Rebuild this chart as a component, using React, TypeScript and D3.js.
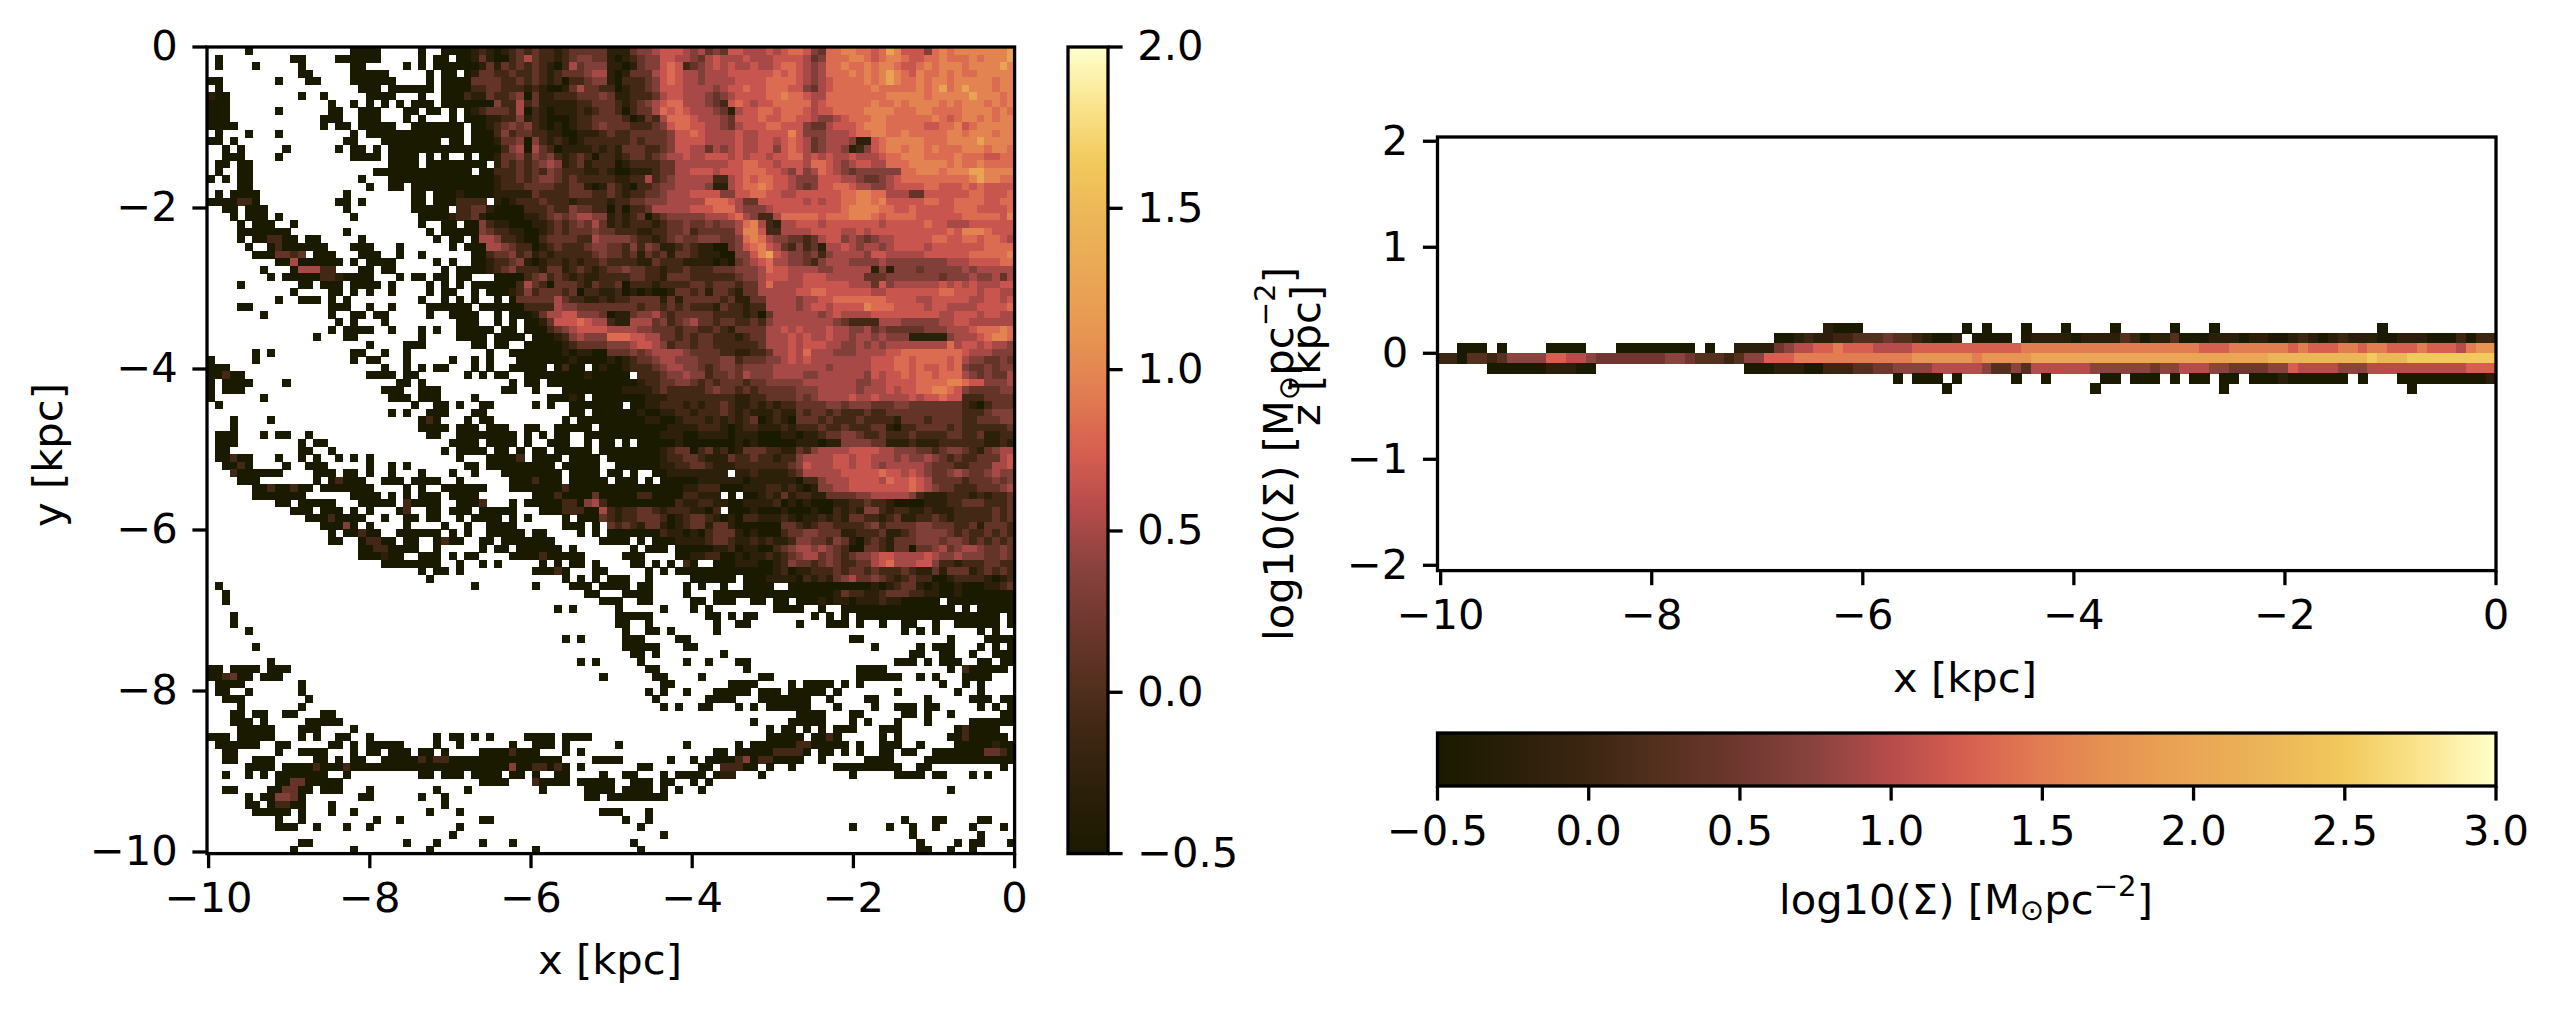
import React, { useEffect, useRef } from 'react';
import * as d3 from 'd3';

// face-on map: one string per row, top row first (y = 0). '.' is an empty bin,
// a digit is a level, faceLevels gives its log10(Sigma).
// Spaces only help counting.
const faceLevels = [-0.5, -0.3, -0.1, 0.13, 0.33, 0.51, 0.67, 0.83, 0.97, 1.25];

// columns 0-52
const faceWest = [
  ".....0.... .........0 000.....0. .000012101 2323221233 333",
  ".0........ .00....000 000.....0. 00.0013100 2353221234 433",
  ".0....0... ..0......0 0.....0.0. 0000001313 2323210253 444",
  ".......... ..00.....0 0000.....0 .00.013322 3223212333 455",
  "00.......0 ...00....0 00000....0 .000033332 2323212022 344",
  ".0........ .......... 000.000000 .000022332 2212100135 332",
  "100....... ..0..0.... .0000...0. .000211322 3403112223 334",
  "000....... ......0..0 .0.0.0.000 .000000042 2523111112 233",
  "000......0 ......00.. 000...00.0 0.0.012333 2502101112 123",
  "000....... .....000.. 000...0.0. ..0.000112 2412100012 233",
  "0000...... .....0.00. 00000..000 0000.00123 4342101012 234",
  ".0...0...0 .........0 .000000000 0000.00024 2332211001 112",
  "00.0...... ........00 ...0000000 0.00.00013 3404212101 222",
  "..0.0..... 0......0.0 0.0.000000 0000000002 4505320111 121",
  "..000....0 .........0 000.0000.0 .0..0.0013 3424342123 202",
  ".00.00.... .......... ....0000.0 0000000.13 2323454123 122",
  ".0..00.... .......... ..00000000 00000.0022 2323243222 112",
  "0.0.00.... .......... 0...000000 0000000012 2323443232 222",
  "....00.... .......... .0..00.000 0000000012 2233332233 101",
  ".0.0000... ........0. .......00. 0001000011 1113222233 322",
  "0000220... .......00. 0......00. 0002222.10 1222322212 222",
  "..00.000.. ........0. .......000 00.2233100 0022232243 322",
  "...0.000.0 .........0 ........00 0012231000 0011234345 544",
  "....0.000. .0........ ........0. .00.004211 0001123234 353",
  "....000000 0.......0. .........0 .000004322 1100123233 343",
  "....0.0022 00.00..... 0......... 0.00.05542 2100233332 254",
  ".....0..02 000000...0 00...0.... ..0.000554 3220123222 344",
  "......0003 323.000... 000..0..0. .....00233 4231212222 234",
  ".........0 05000000.0 .0000..... 0.0..00122 3410122121 223",
  ".......0.. .055522... 00.00..... .0.0000123 4222133123 212",
  "........0. 0000022100 00...0.00. 00.00...00 0023423212 112",
  "....0..... ..00.000.0 000.0....0 .0.0.00000 0253203332 132",
  ".......... .0....00.0 .0..0....0 .00..0.000 1242333230 221",
  ".........0 ..000.0.0. ........0. .0.0.0..0. 0333335322 112",
  "....00.... ......000. .0..0....0 00000.0000 0022225443 333",
  ".......0.. ......0..0 0.00.....0 ..0000..0. 0001355664 443",
  ".......... .......0.0 ...0...... ...000..0. 0.00136667 655",
  ".......... ......0.00 00..0...0. 0..00000.0 0.00023456 666",
  ".......... ....0...00 ........0. ...0000.00 00.0001245 444",
  ".......... .......... .0....000. .....00.00 ..00000123 333",
  "......0.0. .........0 0..0..0... .......0.. 0000000101 100",
  "0.....0... .........0 .00...0... ..0..0.0.. .000000010 000",
  "000....... .......... ...0..0.0. 00...0.0.. 00000.0200 .01",
  "00200..... .......... .0000.00.. ....0.0.00 ..00000000 100",
  "0.0000.... 0......... .....00.0. .......... 0.00.00000 000",
  "0.000..... .......... ...000..00 0........0 0..0...000 000",
  "0......0.. .......... ....000.00 0....0.... .....00010 .00",
  ".0........ .......... .......0.. 00.0..00.. ...0.0..00 000",
  ".......... .......... ....0.0..0 00...00... ........00 .00",
  "...0....0. .......... ........02 0...0.00.. .......0.0 000",
  "...0...... .......... ........00 00.000.000 ..00..0000 0.0",
  ".000...0.0 0..0...... .........0 0..0000000 0.0.0.00.. 000",
  ".000...... ..0.00.... .......... ..0000.000 0.0..000.. 0.0",
  ".00....... ..00..0... .......... .0.0000.00 .0.00.0000 0.0",
  ".00200...0 ..0.0..0.0 .0........ ...0...000 02.0000.00 00.",
  "..0020.... 0..000.... .0..0.0... ....00.000 000000.000 00.",
  "...2000000 ....000.00 .0..0...0. ..0..0...0 0000000.00 00.",
  "....000... ....0.0200 0..000.000 0..0...... 0002000.00 000",
  "......0020 0200.00000 00....0.0. .000000... 0000000200 000",
  "......0000 000......0 000.0.0.00 0.0000.... ...0002000 030",
  ".........0 0.00000... 00000.2000 0..0002... 0.00000220 452",
  ".......... .000.000.0 .0...02..0 0.000.0000 0...000222 005",
  ".......... ...0002000 0..0..00.0 0..0.0000. 0.0....0.0 003",
  ".......... .....00040 .0....0... .0..0..000 0......000 .0.",
  ".......... ......0.00 200..00000 0.0.0..000 00.00....0 .0.",
  ".......... ......00.. 02200.00.. 0200..00.0 000000.... ..0",
  ".......... .......... 00220000.. 0.....0.00 .000000.0. ...",
  ".......... .......... 000100..00 0.0.00.... 0000200000 ...",
  ".......... .......... ...0000000 0..0..0.0. ....0.0.00 .0.",
  ".......... .......... ........0. 00.0...... ...00020.. .00",
  ".......... .......... .........0 .......... .......0.0 .0.",
  ".0........ .......... .......... .....0.... ...0....00 0.0",
  "..0....... .......... .......... .......... .......... 00.",
  "..0....... .......... .......... .......... .......... ..0",
  ".......... .......... .......... .......... ......0.0. ...",
  "...0......",
  "...0......",
  ".....0....",
  ".......... .......... .......... .......... .......0.0 ...",
  "......0...",
  "",
  "........0. .......... .......... .......... .........0 .0.",
  "00.0000.00 0.........",
  "002300.000 .......... .......... .......... .......... ..0",
  ".0000..... ..0.......",
  ".00..0.... ..0.......",
  "..000..... ...0......",
  "....0..... ..0.......",
  "...00.00.. 00...00...",
  "...000.0.. ...00000..",
  "....00000. ..000....0",
  "000.00000. ..0.0..00. .0........ 0.00.0.0.. ..0000.000 0..",
  ".000000..0 0.....00.0 .00000.... 0..0...... 0..000.0.. ...",
  "..00.....0 ..0000...0 .00.000.00 .0....0000 2000...0.0 ...",
  "..00..000. ....00.0.0 0..0000020 2200000000 0000000... .00",
  ".....0000. 0000200020 0000000000 0000000000 40022020.0 ...",
  "..0..0.0.0 000000..0. ........00 .000.0000. 00.0..00.. ..0",
  ".........0 03300000.. .......... ......0000 ...20000.0 000",
  "..00....00 3300.000.. .0........ 0...0..... ....0..... 000",
  ".....0.004 430....... 00......0. .0........ .......... 00.",
  ".....00.02 200...0... .......... .0........",
  "......0000 0.0...0..0 .........0 ...0...... .......... ..0",
  ".........0 ..0....... ..0..0.... ......00..",
  ".........0 00..0...0. .0........ ...0......",
  ".......... .......... .......... ..0.......",
  ".......... ..00...... ......0... 0.....0... 0.........",
  ".......... .0.......0 .........0 .......... ...0......",
];

// columns 53-106
const faceEast = [
  "1113445666 5453436655 5656776437 7887767986 6647878888 8889",
  "1012344665 5435655565 5566665347 7788767887 6677877787 8889",
  "1101344676 2345656556 5567765457 7877878876 6787888788 8898",
  "1013335676 5545556666 6676765457 7787878987 6877878778 8888",
  "1022234676 5545555666 6777765456 7777878987 7878878888 8788",
  "2012234666 5555456676 6777664356 7777787777 7878978988 8788",
  "3112223566 5554345666 6778776557 7777777888 8878888898 8878",
  "3212345677 5554326765 6677777567 7777787787 8888787888 7878",
  "3202335767 6555431566 7767776566 7777888877 7887777888 8787",
  "3320132577 7655543666 7667766544 5677788777 7778767887 8788",
  "3332223467 7665543566 6776664335 6667888777 7766778678 8888",
  "3223333346 6765555655 6666864445 5567788778 7777788788 8788",
  "2223233346 6665555655 6656765345 5541167888 8877788889 8888",
  "2133322346 6553545655 6646765345 5412467887 8878777888 7887",
  "2123323455 6556665656 6566775656 5565556778 8877778777 6677",
  "2012222335 5555556677 6656665776 5456655777 8888878778 7777",
  "1001112335 5666566677 7665464576 5434444447 7888788899 8888",
  "2112252345 5555225676 7766544466 6554334567 7777777789 8877",
  "3210223445 5554115677 8766543466 7765544566 6677666767 6666",
  "3212233455 5666644667 7665566666 6778877555 3366666677 6667",
  "1223344455 5557776533 6666665656 6778878666 6677667777 6677",
  "0202235555 5666777544 4566666666 6788887766 7666667776 6667",
  "1212302344 4445556754 2257777767 7788876777 7666666777 7768",
  "1212221233 4334344578 5215566656 6666665666 6676655566 6666",
  "3222112233 4233333588 6225555666 6556566666 6666676888 7666",
  "4443221234 3344433478 7544332356 6454345566 6667766776 7765",
  "3324243112 3211003467 8653242315 5654554566 6656666666 7777",
  "3323132313 3211100446 8965443424 5555466555 5566666677 7778",
  "2222113222 1111010345 6755443245 5544445444 4444455566 6677",
  "3343322122 3222333444 5766555544 5555514144 4344444545 5555",
  "2223322133 3222222344 5666556665 5555333444 4444344454 4535",
  "2302221222 2332333233 5755556666 6655536455 5555656565 5566",
  "1201010013 3231332133 5555566776 6666655666 6666776665 6655",
  "1223333131 3333323113 3555545566 7777777666 6556666655 6656",
  "3333233232 3222132212 2555545665 6666877766 6656655556 6667",
  "0113445323 3333222212 0355555545 6555566666 6666556665 6655",
  "2115553423 4533233223 2455555555 4322225554 4444556655 5555",
  "5555443332 3322321333 3556565556 5544534333 3344455567 7787",
  "7776655332 3233222123 3555656556 5545545444 1111145556 7887",
  "4445665423 3233222222 3555656665 5445454555 5555575665 6554",
  "3334345555 4333322112 2355657555 4445555667 7777777655 5444",
  "1012334554 4433344233 3445656555 5555566677 6777767544 3343",
  "0012223455 4432344344 4455555554 5555566677 6766767433 4344",
  "000.222344 5442334354 4455554455 5555465667 6776777543 4335",
  "0000122334 4323233323 3444445555 5554455666 6777788766 4445",
  "0011112322 2223433232 3333344455 5554555656 6778876433 3344",
  "0000011122 2222222112 2333343455 5565565555 6566766222 3333",
  "00.0011222 1212232112 1212233334 4344433344 3333333210 2333",
  "0000100112 2122232121 1121132332 3222322333 3333333222 3444",
  "0000011001 2221212123 0121033323 2223222213 3323333223 3344",
  "0000000011 1122210122 1112122232 2322233102 2333323222 2223",
  "0000000111 0011110111 0001101123 3443223222 3222233223 1122",
  "0.0.000001 0000000101 0000011101 1444433111 2111222222 1121",
  "0000000123 3023120133 3221132455 5566665544 4332344321 3455",
  "0000000122 3321113223 2212245555 6656655545 4454323223 3356",
  ".000000112 2332111222 2222346555 6656654555 5543332233 3556",
  "00.0..0011 111111.112 1111235555 5666667665 6543345433 4544",
  ".000.0.000 0011111101 1111102245 5566665766 7653333233 3434",
  "0000000000 1122200011 1221210144 5566666666 7654332223 3345",
  "0000220000 22111.0.00 1213122113 3334455555 4211122212 1223",
  "0000000002 1122110011 1120101000 1122322100 0011122333 2223",
  "2122332122 21102.0001 0001000100 2121442122 1121112222 2323",
  "2122333201 2332101022 1112101121 2133221231 1223212222 2323",
  "3232133101 2331331000 0003321233 2222342333 3443332231 3332",
  "0000000211 0102333101 0002334433 3112223112 3444432322 3232",
  "000.0.0001 1112332112 1211244332 4310232133 3444344323 2323",
  "...0.000.0 0000112011 0023455454 3200332133 0334534554 3343",
  "..000....0 0112200101 1212345534 3234456655 5565445444 3343",
  "...00.0.0. 20..000111 0012433234 3223356755 5664221222 3322",
  ".....0.0.0 0000000000 0012011222 3233232223 2113133312 3232",
  "000..0.... .000000.00 0111102121 3453343212 3220012222 1012",
  "000.00.... 0.0..0..00 00..000000 0000010123 3101001000 1123",
  "..0000.... 0...000000 0000000000 1322112333 2211001000 0000",
  "00..00.... .00.000..0 0.00.00010 1101112110 0000.00000 0000",
  ".0.....0.. .0.0...... ..0000..0. .000000000 000000.0.0 0000",
  ".00000.... ...00.0.00 .......0.0 .0.0000000 0000000000 00.0",
  ".00..0.... ....0..00. .....0...0 00.0..0..0 0..0..0000 00.0",
  "..0..00.0. ....0..... .......... .........0 .0.0.....0 .0..",
  "..000....0 0......... .......... ..00...... .....0.... 0000",
  "..00000... 00........ .......... .....0.... .0.000...0 .0.0",
  "...00.0... .....0.... .......... .......... 00..00..0. .000",
  "....0..... 0..0...00. .......... ........00 0.0.000..0 0.00",
  ".....00... ........0. .......... ...0000... .....0.200 000.",
  "......00.. ..0....... 00........ ...000000. .0.0...000 0...",
  ".......00. ......0000 ....0.0000 .0.0...... ....0..0.0 ....",
  ".....0.0.. 0...00000. 000.00000. 0.......0. ......0..0 ....",
  "......0... ...0000... 0000000..0 ....00.... ..0.....00 0.00",
  ".......0.0 ..00...0.0 .000000... 0....0..00 0.00.....0 .0.0",
  ".......... .......... .....0000. ..00.....0 0.0..0.... ..00",
  ".......... .........0 ....00000. ..0.0...0. ..0.....00 0000",
  ".......... .......... .0.00.0.0. 000...000. ......0200 00..",
  ".......... .......... .00000.002 0.....0.0. .....00200 000.",
  ".0........ 0......0.0 0000022000 00.0..000. .0....0000 0100",
  ".......... ....00.000 0022220.00 .0.0..00.0 0..0000000 3320",
  "00......0. .0.0000240 220000..0. ....0000.. ..00000000 0000",
  "....00.... ..00.22200 .0..0..... 000000000. .00....... ..0.",
  "..00...0.0 000.011... 0......... ..0.....00 00.00...0. 0...",
  "0..000.00. .0.0......",
  "0.0000.0.0 ..0....... .......... .......... .....0....",
  "00000000..",
  "",
  "00...0....",
  "..0..0.... .......... .......... .........0 ...00....0 0...",
  "....0..... .......... .......... ..0....0.. 0..0....0. ..0.",
  ".......0.. .......... .......... .......... 0........0 ....",
  "...0...... .......... .......... .......... .0....0.00 ...0",
  "....0..... .......... .......... .......... .00..0..0. ....",
];

// edge-on map, same idea with hex levels. Top row first.
const edgeLevels = [-0.5, -0.25, 0, 0.25, 0.5, 0.75, 1, 1.25, 1.5, 1.75, 2, 2.25, 2.5];
const edgeTopRow = 3; // the top row's upper edge sits this many bins above z = 0
const edgeRows = [
  ".......... .......... .......... .........1 000....... ...0.0...0 ...0....0. ....0...0. .......... .....0.... .......",
  ".......... .......... .......... ....001211 2233343321 001.0000.0 1111011113 2011300011 1011001210 1211100111 0002022",
  "..000.0... .0000...00 000000.0.. 1111456677 8777666677 7777777778 8888888888 8888888777 8888887877 7887887778 7776899",
  "2203323555 5776654444 4445543332 3557778888 8888888899 9999899999 aaaaaaaaaa aaaaaaaaaa aaaabbbbbb bbbbcbbbcc ccccccc",
  ".....00000 011100.... .......... .000111002 2233445555 6666653353 6666665555 5545566655 4444557666 6555666666 6666777",
  ".......... .......... .......... .......... ......0.00 0.0.....0. .0.....00. 000.0.00.0 0.00010000 00.0...000 0000001",
  ".......... .......... .......... .......... .......... .0........ ......0... .........0 .......... ........0. .......",
];

const xTicks = [-10, -8, -6, -4, -2, 0];
const faceYTicks = [0, -2, -4, -6, -8, -10];
const edgeYTicks = [2, 1, 0, -1, -2];
const faceBarTicks = [-0.5, 0, 0.5, 1, 1.5, 2];
const edgeBarTicks = [-0.5, 0, 0.5, 1, 1.5, 2, 2.5, 3];

const cmapStops = [
  '#1a1a00', '#2a1f0a', '#3c2612', '#55301f', '#6f372f', '#8a433f', '#b64c4b', '#d75f50',
  '#e27d52', '#e79552', '#eaa655', '#ecb558', '#f2c95c', '#fae48d', '#ffffcc',
];

const FONT = 'DejaVu Sans';
const FS = 41.67;
const LW = 3.3;
const TICK = 14.6;
const PAD = 14.6;
const NX = 107;

const cmap = d3.scaleLinear<string>()
  .domain(cmapStops.map((_, i) => i / (cmapStops.length - 1)))
  .range(cmapStops)
  .interpolate(d3.interpolateRgb);

const minus = (s: string) => s.replace('-', '\u2212');

interface Cell { col: number; row: number; v: number }

function parseCells(rows: string[], levels: number[]): Cell[] {
  const cells: Cell[] = [];
  rows.forEach((r, row) => {
    r.replace(/ /g, '').split('').forEach((ch, col) => {
      if (ch === '.') return;
      cells.push({ col, row, v: levels[parseInt(ch, 16)] });
    });
  });
  return cells;
}

const App: React.FC = () => {
  const svgRef = useRef<SVGSVGElement | null>(null);

  useEffect(() => {
    if (!svgRef.current) return;
    const svg = d3.select(svgRef.current);
    svg.selectAll('*').remove();
    svg.attr('font-family', FONT).attr('font-size', FS);

    const styleAxis = (g: d3.Selection<SVGGElement, unknown, null, undefined>) => {
      g.attr('font-family', FONT).attr('font-size', FS);
      g.select('.domain').remove();
      g.selectAll('line').attr('stroke', '#000').attr('stroke-width', LW);
      g.selectAll('text').attr('fill', '#000');
    };
    const spine = (x0: number, y0: number, x1: number, y1: number) => {
      svg.append('rect')
        .attr('x', x0).attr('y', y0).attr('width', x1 - x0).attr('height', y1 - y0)
        .attr('fill', 'none').attr('stroke', '#000').attr('stroke-width', LW);
    };
    const defaults = <T,>(a: d3.Axis<T>) => a.tickSize(TICK).tickPadding(PAD).offset(0);

    // ---- face-on panel
    const faceBox = { x0: 207, x1: 1014.6, y0: 47, y1: 853.6 };
    const xFace = d3.scaleLinear().domain([-10.02, 0]).range([faceBox.x0, faceBox.x1]);
    const yFace = d3.scaleLinear().domain([-10.02, 0]).range([faceBox.y1, faceBox.y0]);
    const binFace = 10.02 / NX;
    const faceColor = d3.scaleLinear().domain([-0.5, 2]).range([0, 1]);

    const faceRows = faceWest.map((w, i) => {
      const west = w.replace(/ /g, '').padEnd(53, '.');
      return west + faceEast[i].replace(/ /g, '').padEnd(54, '.');
    });
    svg.append('g').attr('shape-rendering', 'crispEdges')
      .selectAll('rect')
      .data(parseCells(faceRows, faceLevels))
      .join('rect')
      .attr('x', d => xFace(-10.02 + d.col * binFace))
      .attr('y', d => yFace(-d.row * binFace))
      .attr('width', xFace(binFace) - xFace(0) + 0.5)
      .attr('height', yFace(0) - yFace(binFace) + 0.5)
      .attr('fill', d => cmap(faceColor(d.v)));

    svg.append('g').attr('transform', `translate(0,${faceBox.y1})`)
      .call(defaults(d3.axisBottom(xFace).tickValues(xTicks).tickFormat(d => minus(String(d)))))
      .call(styleAxis);
    svg.append('g').attr('transform', `translate(${faceBox.x0},0)`)
      .call(defaults(d3.axisLeft(yFace).tickValues(faceYTicks).tickFormat(d => minus(String(d)))))
      .call(styleAxis);
    spine(faceBox.x0, faceBox.y0, faceBox.x1, faceBox.y1);

    // ---- vertical colorbar
    const defs = svg.append('defs');
    const hGrad = defs.append('linearGradient').attr('id', 'cmapH');
    const vGrad = defs.append('linearGradient').attr('id', 'cmapV')
      .attr('x1', 0).attr('x2', 0).attr('y1', 1).attr('y2', 0);
    d3.range(0, 257).forEach(i => {
      const t = i / 256;
      hGrad.append('stop').attr('offset', t).attr('stop-color', cmap(t));
      vGrad.append('stop').attr('offset', t).attr('stop-color', cmap(t));
    });

    const vBar = { x0: 1068, x1: 1108, y0: 47, y1: 853.6 };
    svg.append('rect')
      .attr('x', vBar.x0).attr('y', vBar.y0)
      .attr('width', vBar.x1 - vBar.x0).attr('height', vBar.y1 - vBar.y0)
      .attr('fill', 'url(#cmapV)');
    const yBar = d3.scaleLinear().domain([-0.5, 2]).range([vBar.y1, vBar.y0]);
    svg.append('g').attr('transform', `translate(${vBar.x1},0)`)
      .call(defaults(d3.axisRight(yBar).tickValues(faceBarTicks).tickFormat(d => minus(d3.format('.1f')(d as number)))))
      .call(styleAxis);
    spine(vBar.x0, vBar.y0, vBar.x1, vBar.y1);

    // ---- edge-on panel
    const edgeBox = { x0: 1437.5, x1: 2496, y0: 137, y1: 570.6 };
    const xEdge = d3.scaleLinear().domain([-10.03, 0]).range([edgeBox.x0, edgeBox.x1]);
    const yEdge = d3.scaleLinear().domain([-2.05, 2.04]).range([edgeBox.y1, edgeBox.y0]);
    const binEdge = 10.03 / NX;
    const edgeColor = d3.scaleLinear().domain([-0.5, 3]).range([0, 1]);

    svg.append('g').attr('shape-rendering', 'crispEdges')
      .selectAll('rect')
      .data(parseCells(edgeRows, edgeLevels))
      .join('rect')
      .attr('x', d => xEdge(-10.03 + d.col * binEdge))
      .attr('y', d => yEdge((edgeTopRow - d.row) * binEdge))
      .attr('width', xEdge(binEdge) - xEdge(0) + 0.5)
      .attr('height', yEdge(0) - yEdge(binEdge) + 0.5)
      .attr('fill', d => cmap(edgeColor(d.v)));

    svg.append('g').attr('transform', `translate(0,${edgeBox.y1})`)
      .call(defaults(d3.axisBottom(xEdge).tickValues(xTicks).tickFormat(d => minus(String(d)))))
      .call(styleAxis);
    svg.append('g').attr('transform', `translate(${edgeBox.x0},0)`)
      .call(defaults(d3.axisLeft(yEdge).tickValues(edgeYTicks).tickFormat(d => minus(String(d)))))
      .call(styleAxis);
    spine(edgeBox.x0, edgeBox.y0, edgeBox.x1, edgeBox.y1);

    // ---- horizontal colorbar
    const hBar = { x0: 1437.5, x1: 2496, y0: 733, y1: 786 };
    svg.append('rect')
      .attr('x', hBar.x0).attr('y', hBar.y0)
      .attr('width', hBar.x1 - hBar.x0).attr('height', hBar.y1 - hBar.y0)
      .attr('fill', 'url(#cmapH)');
    const xBar = d3.scaleLinear().domain([-0.5, 3]).range([hBar.x0, hBar.x1]);
    svg.append('g').attr('transform', `translate(0,${hBar.y1})`)
      .call(defaults(d3.axisBottom(xBar).tickValues(edgeBarTicks).tickFormat(d => minus(d3.format('.1f')(d as number)))))
      .call(styleAxis);
    spine(hBar.x0, hBar.y0, hBar.x1, hBar.y1);

    // ---- labels
    const label = (text: string, x: number, y: number, rotate = false) => {
      svg.append('text')
        .attr('text-anchor', 'middle')
        .attr('transform', `translate(${x},${y})${rotate ? ' rotate(-90)' : ''}`)
        .attr('fill', '#000')
        .text(text);
    };
    const sigmaLabel = (x: number, y: number, rotate = false) => {
      const t = svg.append('text')
        .attr('text-anchor', 'middle')
        .attr('transform', `translate(${x},${y})${rotate ? ' rotate(-90)' : ''}`)
        .attr('fill', '#000');
      t.append('tspan').text('log10(\u03A3) [M');
      t.append('tspan').attr('font-size', FS * 0.7).attr('dy', FS * 0.15).text('\u2299');
      t.append('tspan').attr('dy', -FS * 0.15).text('pc');
      t.append('tspan').attr('font-size', FS * 0.7).attr('dy', -FS * 0.43).text('\u22122');
      t.append('tspan').attr('dy', FS * 0.43).text(']');
    };

    label('x [kpc]', 610, 974);
    label('y [kpc]', 62, 455, true);
    label('x [kpc]', 1965, 692);
    label('z [kpc]', 1320, 355.5, true);
    sigmaLabel(1966, 914);
    sigmaLabel(1293, 454, true);
  }, []);

  return (
    <svg
      ref={svgRef}
      width={2556}
      height={1014}
      style={{ position: 'absolute', left: 0, top: 0, display: 'block', background: '#fff' }}
    />
  );
};

export default App;
